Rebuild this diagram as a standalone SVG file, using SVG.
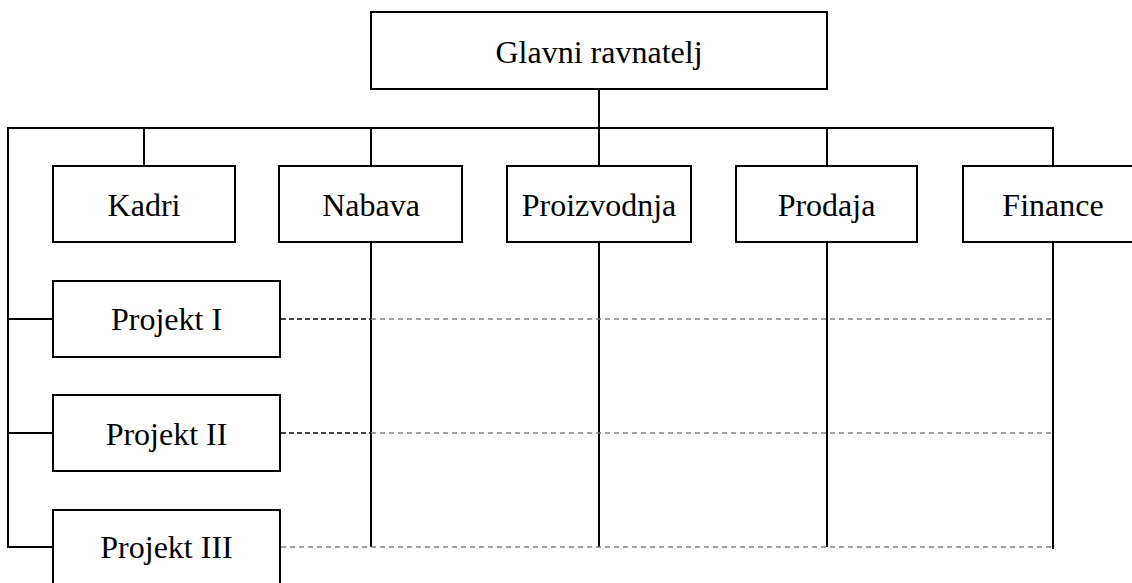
<svg xmlns="http://www.w3.org/2000/svg" width="1132" height="583" viewBox="0 0 1132 583">
  <style>
    .box { fill: #ffffff; stroke: #000000; stroke-width: 2; }
    .lbl { font-family: 'Liberation Serif', serif; font-size: 32px; fill: #000000; text-anchor: middle; }
    .solid { fill: none; stroke: #000000; stroke-width: 2; }
    .dash-dark { fill: none; stroke: #000000; stroke-width: 1.5; stroke-dasharray: 5 3; }
    .dash-grey { fill: none; stroke: #808080; stroke-width: 1.5; stroke-dasharray: 5 4; }
  </style>

  <!-- reporting lines -->
  <g id="connectors">
    <!-- director down to the bus -->
    <line class="solid" x1="599" y1="89" x2="599" y2="128"/>
    <!-- horizontal bus with the left spine -->
    <polyline class="solid" points="8,548 8,128 1053,128 1053,166"/>
    <!-- drops to departments -->
    <line class="solid" x1="144" y1="128" x2="144" y2="166"/>
    <line class="solid" x1="371" y1="128" x2="371" y2="166"/>
    <line class="solid" x1="599" y1="128" x2="599" y2="166"/>
    <line class="solid" x1="827" y1="128" x2="827" y2="166"/>
    <!-- department columns -->
    <line class="solid" x1="371" y1="242" x2="371" y2="547"/>
    <line class="solid" x1="599" y1="242" x2="599" y2="547"/>
    <line class="solid" x1="827" y1="242" x2="827" y2="547"/>
    <line class="solid" x1="1053" y1="242" x2="1053" y2="549"/>
    <!-- stubs to projects -->
    <line class="solid" x1="8" y1="319" x2="53" y2="319"/>
    <line class="solid" x1="8" y1="433" x2="53" y2="433"/>
    <line class="solid" x1="8" y1="547" x2="53" y2="547"/>
    <!-- project matrix lines -->
    <line class="dash-dark" x1="281" y1="319" x2="371" y2="319"/>
    <line class="dash-grey" x1="371" y1="319" x2="1053" y2="319"/>
    <line class="dash-dark" x1="281" y1="433" x2="371" y2="433"/>
    <line class="dash-grey" x1="371" y1="433" x2="1053" y2="433"/>
    <line class="dash-grey" x1="281" y1="547" x2="1053" y2="547"/>
  </g>

  <g id="glavni-ravnatelj">
    <rect class="box" x="371" y="12" width="456" height="77"/>
    <text class="lbl" x="599" y="62.5">Glavni ravnatelj</text>
  </g>

  <g id="kadri">
    <rect class="box" x="53" y="166" width="182" height="76"/>
    <text class="lbl" x="144" y="215.5">Kadri</text>
  </g>

  <g id="nabava">
    <rect class="box" x="279" y="166" width="183" height="76"/>
    <text class="lbl" x="371" y="215.5">Nabava</text>
  </g>

  <g id="proizvodnja">
    <rect class="box" x="507" y="166" width="184" height="76"/>
    <text class="lbl" x="599" y="215.5">Proizvodnja</text>
  </g>

  <g id="prodaja">
    <rect class="box" x="736" y="166" width="181" height="76"/>
    <text class="lbl" x="826.5" y="215.5">Prodaja</text>
  </g>

  <g id="finance">
    <rect class="box" x="963" y="166" width="180" height="76"/>
    <text class="lbl" x="1053" y="215.5">Finance</text>
  </g>

  <g id="projekt-1">
    <rect class="box" x="53" y="281" width="227" height="76"/>
    <text class="lbl" x="166.5" y="329.5">Projekt I</text>
  </g>

  <g id="projekt-2">
    <rect class="box" x="53" y="395" width="227" height="76"/>
    <text class="lbl" x="166.5" y="444.5">Projekt II</text>
  </g>

  <g id="projekt-3">
    <rect class="box" x="53" y="510" width="227" height="80"/>
    <text class="lbl" x="166.5" y="558">Projekt III</text>
  </g>
</svg>
